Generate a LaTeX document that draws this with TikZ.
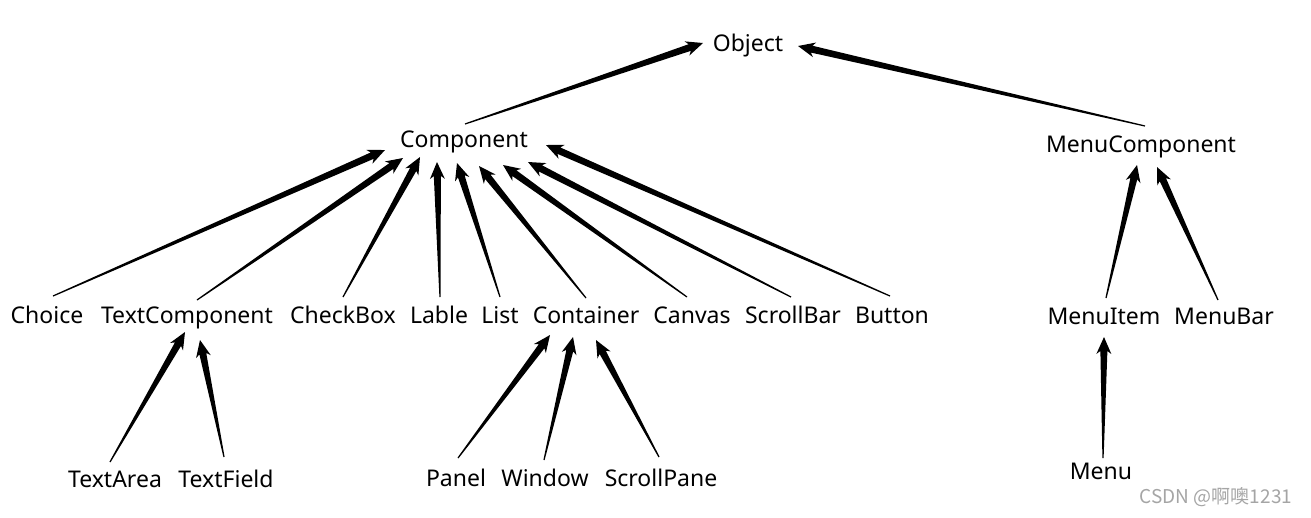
\documentclass[tikz,border=0pt]{standalone}
\usepackage{fontspec}
\setmainfont{Noto Sans}
\newfontfamily\cjkfont{Noto Sans CJK SC}
\usetikzlibrary{calc}
\definecolor{wmgray}{RGB}{165,165,165}
\tikzset{
  cls/.style={anchor=base, inner sep=0pt, font=\fontsize{23}{28}\selectfont},
  arrowfill/.style={fill=black},
}
\newcommand\inh[4]{%
  \coordinate (wT) at ($(#1.base)+(#2)$);
  \coordinate (wH) at ($(#3.base)+(#4)$);
  \coordinate (wB) at ($(wH)!17pt!(wT)$);
  \coordinate (wJ) at ($(wH)!14pt!(wT)$);
  \fill[arrowfill] ($(wT)!0.6pt!90:(wH)$) -- ($(wJ)!3.5pt!90:(wH)$) -- ($(wB)!7.5pt!90:(wH)$) -- (wH)
     -- ($(wB)!7.5pt!-90:(wH)$) -- ($(wJ)!3.5pt!-90:(wH)$) -- ($(wT)!0.6pt!-90:(wH)$) -- cycle;
}
\begin{document}
\begin{tikzpicture}[x=1pt,y=-1pt]
\fill[white] (0,0) rectangle (1311,517);
\useasboundingbox (0,0) rectangle (1311,517);
% level 0
\node[cls] (obj) at (748,51) {Object};
% level 1
\node[cls] (comp) at (464,147) {Component};
\node[cls] (mcomp) at (1141,152) {MenuComponent};
% level 2
\node[cls] (choice) at (47,323) {Choice};
\node[cls] (tcomp) at (187,323) {TextComponent};
\node[cls] (cbox) at (343,323) {CheckBox};
\node[cls] (lable) at (439,323) {Lable};
\node[cls] (list) at (500,323) {List};
\node[cls] (cont) at (586,323) {Container};
\node[cls] (canvas) at (692,323) {Canvas};
\node[cls] (sbar) at (793,323) {ScrollBar};
\node[cls] (button) at (892,323) {Button};
\node[cls] (mitem) at (1104,324) {MenuItem};
\node[cls] (mbar) at (1224,324) {MenuBar};
% level 3
\node[cls] (tarea) at (115,487) {TextArea};
\node[cls] (tfield) at (226,487) {TextField};
\node[cls] (panel) at (456,486) {Panel};
\node[cls] (window) at (545,486) {Window};
\node[cls] (spane) at (661,486) {ScrollPane};
\node[cls] (menu) at (1101,479) {Menu};
% watermark
\node[anchor=base, inner sep=0pt, text=wmgray, font=\cjkfont\fontsize{19}{21}\selectfont] (wm) at (1216,503) {CSDN @啊噢1231};
% inheritance arrows
\inh{comp}{1,-23}{obj}{-45,-8}
\inh{mcomp}{4,-26}{obj}{50,-5}
\inh{choice}{6,-27}{comp}{-79,3}
\inh{tcomp}{10,-23}{comp}{-61,11}
\inh{cbox}{0,-26}{comp}{-44,10}
\inh{lable}{1,-26}{comp}{-27,15}
\inh{list}{0,-26}{comp}{-7,16}
\inh{cont}{0,-25}{comp}{15,19}
\inh{canvas}{-5,-26}{comp}{39,18}
\inh{sbar}{-2,-26}{comp}{64,15}
\inh{button}{-2,-27}{comp}{82,-2}
\inh{tarea}{-5,-25}{tcomp}{-2,9}
\inh{tfield}{-2,-30}{tcomp}{13,17}
\inh{panel}{2,-28}{cont}{-36,12}
\inh{window}{-1,-26}{cont}{-13,14}
\inh{spane}{-2,-29}{cont}{10,17}
\inh{mitem}{2,-26}{mcomp}{-4,13}
\inh{mbar}{-6,-24}{mcomp}{16,15}
\inh{menu}{2,-21}{mitem}{0,13}
\end{tikzpicture}
\end{document}
